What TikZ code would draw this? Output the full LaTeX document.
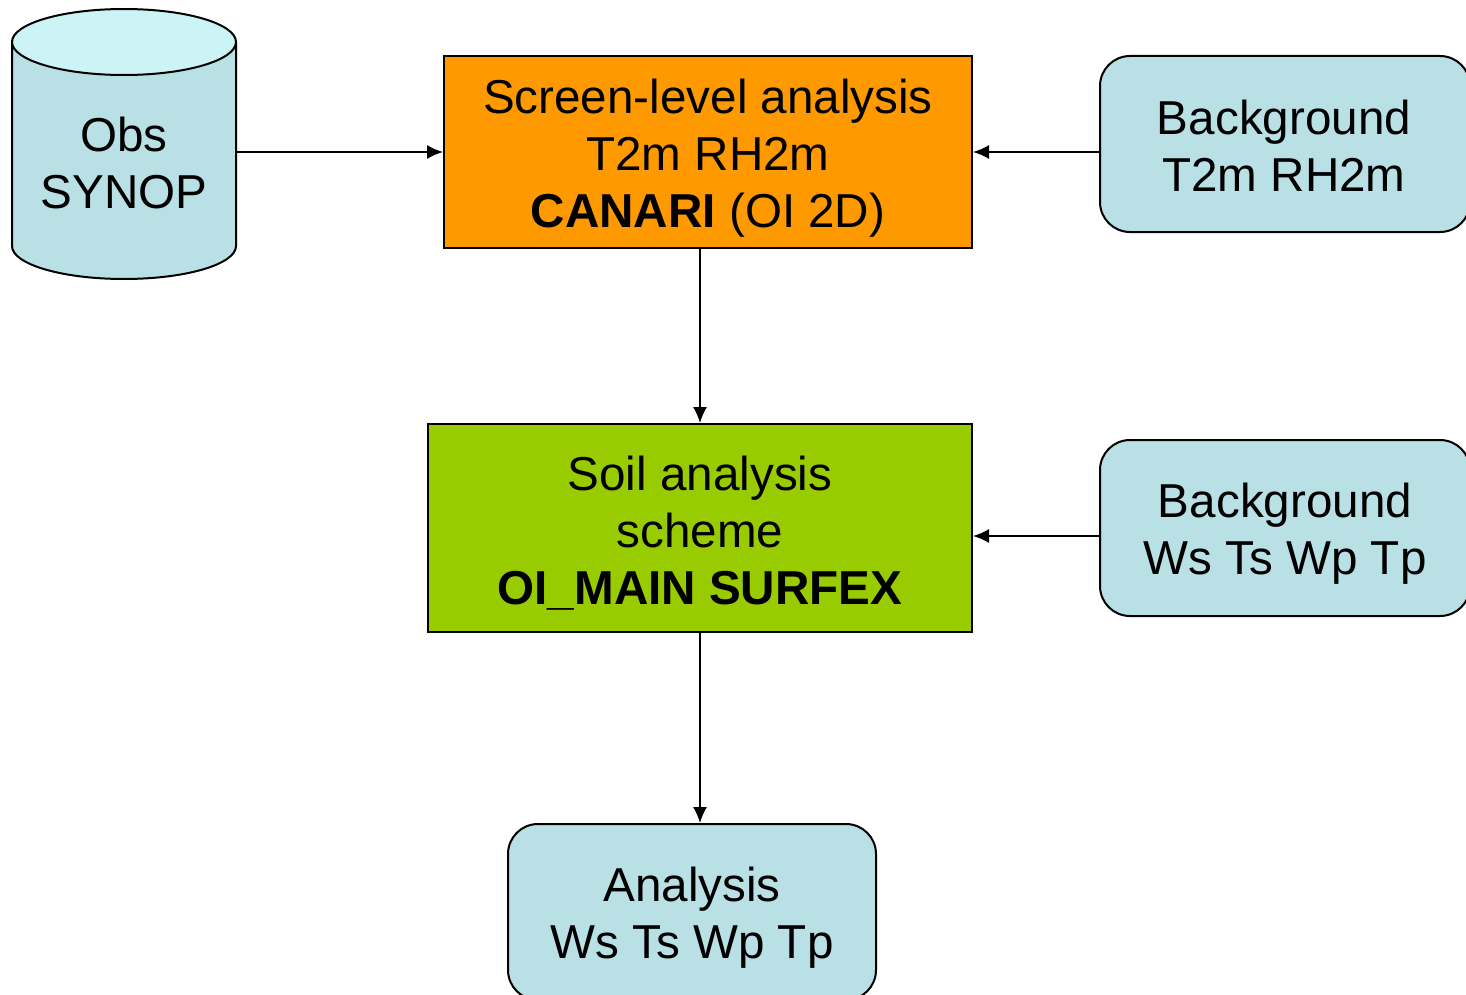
\documentclass[tikz,border=0pt]{standalone}
\usepackage{fontspec}
\setmainfont{Liberation Sans}
\usetikzlibrary{arrows.meta}
\definecolor{cylbody}{HTML}{B9E0E4}
\definecolor{cyltop}{HTML}{CCF4F6}
\definecolor{boxblue}{HTML}{B9E0E4}
\definecolor{orangebox}{HTML}{FF9900}
\definecolor{greenbox}{HTML}{99CC00}
\tikzset{
  txt/.style={font=\fontsize{23.8pt}{28.5pt}\selectfont, align=center, text=black},
  procbox/.style={txt, draw=black, line width=1pt, inner sep=0pt},
  databox/.style={draw=black, line width=1pt, fill=boxblue, rounded corners=15pt, inner sep=0pt, minimum width=185pt, minimum height=88pt},
  conn/.style={line width=0.75pt, -{Latex[length=8pt,width=7pt]}}
}
\begin{document}
\begin{tikzpicture}[x=0.5pt,y=-0.5pt]
\useasboundingbox (0,0) rectangle (1466,995);
\clip (0,0) rectangle (1466,995);
% cylinder
\fill[cylbody] (12,42) -- (12,246) arc[start angle=180,end angle=360,x radius=56pt,y radius=16.5pt] -- (236,42) -- cycle;
\draw[line width=1pt] (12,42) -- (12,246) arc[start angle=180,end angle=360,x radius=56pt,y radius=16.5pt] -- (236,42);
\filldraw[fill=cyltop, line width=1pt] (124,42) ellipse[x radius=56pt,y radius=16.5pt];
\node[txt, inner sep=0pt, minimum width=112pt] (obs) at (124,163) {Obs\\SYNOP};
% boxes
\node[procbox, fill=orangebox, minimum width=264pt, minimum height=96pt] (canari) at (708,152) {};
\node[txt] (canaritxt) at (708,158) {Screen-level analysis\\T2m RH2m\\\textbf{CANARI} (OI 2D)};
\node[procbox, fill=greenbox, minimum width=272pt, minimum height=104pt] (soil) at (700,528) {};
\node[txt] (soiltxt) at (700,533) {Soil analysis\\scheme\\\textbf{OI\_MAIN SURFEX}};
\node[databox] (bg1) at (1285,144) {};
\node[txt] (bg1txt) at (1284,146) {Background\\T2m RH2m};
\node[databox] (bg2) at (1285,528) {};
\node[txt] (bg2txt) at (1285,534) {Background\\Ws Ts Wp Tp};
\node[databox, minimum width=184pt] (ana) at (692,912) {};
\node[txt] (anatxt) at (692,918) {Analysis\\Ws Ts Wp Tp};
% connectors
\draw[conn] (obs.east |- canari.west) -- (canari.west);
\draw[conn] (bg1.west |- canari.east) -- (canari.east);
\draw[conn] (canari.south -| 700,0) -- (soil.north -| 700,0);
\draw[conn] ([yshift=-4pt]bg2.west) -- ([yshift=-4pt]soil.east);
\draw[conn] (soil.south -| 700,0) -- (ana.north -| 700,0);
\end{tikzpicture}
\end{document}
